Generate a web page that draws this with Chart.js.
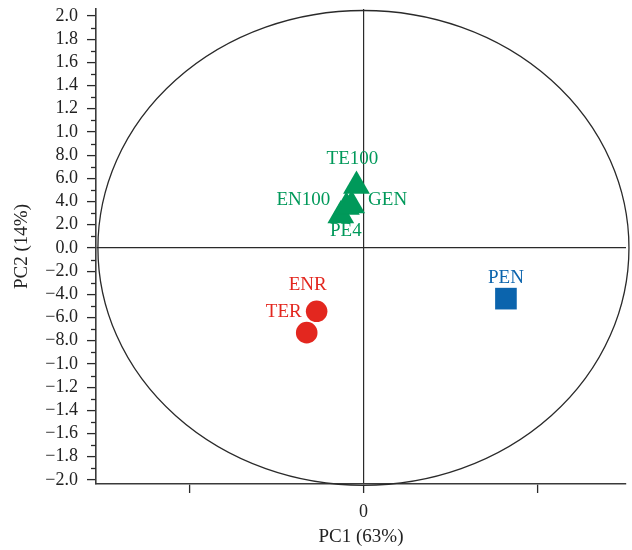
<!DOCTYPE html>
<html>
<head>
<meta charset="utf-8">
<script src="https://cdn.jsdelivr.net/npm/chart.js@4"></script>
<style>
  html, body { margin: 0; padding: 0; background: #ffffff; }
  canvas { display: block; }
</style>
</head>
<body>
<canvas id="c" width="632" height="550"></canvas>
<script>
// ---- data ----
const sampleNames = ['PE4', 'EN100', 'GEN', 'TE100', 'ENR', 'TER', 'PEN'];
const pc1Scores   = [-0.130, -0.098, -0.068, -0.040, -0.269, -0.326, 0.819];
const pc2Scores   = [ 0.280,  0.353,  0.366,  0.534, -0.546, -0.730, -0.437];
const sampleGroups = ['tri', 'tri', 'tri', 'tri', 'circ', 'circ', 'sq'];

const yTickValues = [2.0, 1.8, 1.6, 1.4, 1.2, 1.0, 0.8, 0.6, 0.4, 0.2, 0.0,
                     -0.2, -0.4, -0.6, -0.8, -1.0, -1.2, -1.4, -1.6, -1.8, -2.0];
const yTickLabels = ['2.0', '1.8', '1.6', '1.4', '1.2', '1.0', '8.0', '6.0', '4.0', '2.0', '0.0',
                     '\u22122.0', '\u22124.0', '\u22126.0', '\u22128.0', '\u22121.0', '\u22121.2',
                     '\u22121.4', '\u22121.6', '\u22121.8', '\u22122.0'];
const xTickValues = [-1, 0, 1];
const xTickLabels = ['', '0', ''];
const xTitle = 'PC1 (63%)';
const yTitle = 'PC2 (14%)';
const ellipseRadiusX = 1.526;
const ellipseRadiusY = 2.047;

// ---- styles ----
const FONT = "'Liberation Serif', 'DejaVu Serif', serif";
const groupStyles = {
  tri:  { color: '#00995a', pointStyle: 'triangle', radius: 15.5, borderWidth: 0 },
  circ: { color: '#e3271f', pointStyle: 'circle',   radius: 10.8, borderWidth: 0 },
  sq:   { color: '#0b64ad', pointStyle: 'rect',     radius: 15.3, borderWidth: 0 }
};
const labelOffsets = {
  TE100: [-4, -27], GEN: [36, -5], EN100: [-43, -7], PE4: [5, 16],
  ENR: [-9, -26], TER: [-23, -21], PEN: [0, -21]
};
const LINE = '#2a2a2a';

// ---- build datasets ----
const groupsOrder = ['tri', 'circ', 'sq'];
const datasets = groupsOrder.map(g => {
  const st = groupStyles[g];
  const pts = [];
  sampleNames.forEach((n, i) => {
    if (sampleGroups[i] === g) pts.push({ x: pc1Scores[i], y: pc2Scores[i], name: n });
  });
  return {
    label: g,
    data: pts,
    pointStyle: st.pointStyle,
    pointRadius: st.radius,
    pointHoverRadius: st.radius,
    backgroundColor: st.color,
    borderColor: st.color,
    pointBorderWidth: st.borderWidth,
    labelColor: st.color,
    clip: false
  };
});

const isMajorY = v => yTickValues.some(t => Math.abs(t - v) < 1e-6);

const ellipsePlugin = {
  id: 'ellipse',
  beforeDatasetsDraw(chart) {
    const xs = chart.scales.x, ys = chart.scales.y, ctx = chart.ctx;
    const cx = xs.getPixelForValue(0), cy = ys.getPixelForValue(0);
    const rx = Math.abs(xs.getPixelForValue(ellipseRadiusX) - cx);
    const ry = Math.abs(ys.getPixelForValue(ellipseRadiusY) - cy);
    ctx.save();
    ctx.beginPath();
    ctx.ellipse(cx, cy, rx, ry, 0, 0, Math.PI * 2);
    ctx.strokeStyle = LINE;
    ctx.lineWidth = 1.3;
    ctx.stroke();
    ctx.restore();
  }
};

const minorTickPlugin = {
  id: 'minorTicks',
  afterDraw(chart) {
    const ys = chart.scales.y, ctx = chart.ctx, left = chart.chartArea.left;
    ctx.save();
    ctx.strokeStyle = LINE;
    ctx.lineWidth = 1.3;
    ys.ticks.forEach(t => {
      if (isMajorY(t.value)) return;
      const y = Math.round(ys.getPixelForValue(t.value)) + 0.5;
      ctx.beginPath();
      ctx.moveTo(left - 5, y);
      ctx.lineTo(left, y);
      ctx.stroke();
    });
    ctx.restore();
  }
};

const labelPlugin = {
  id: 'pointLabels',
  afterDatasetsDraw(chart) {
    const ctx = chart.ctx;
    ctx.save();
    ctx.font = "19px " + FONT;
    ctx.textAlign = 'center';
    ctx.textBaseline = 'middle';
    chart.data.datasets.forEach((ds, di) => {
      const meta = chart.getDatasetMeta(di);
      meta.data.forEach((el, i) => {
        const name = ds.data[i].name;
        const off = labelOffsets[name] || [0, -20];
        ctx.fillStyle = ds.labelColor;
        ctx.fillText(name, el.x + off[0], el.y + off[1]);
      });
    });
    ctx.restore();
  }
};

new Chart(document.getElementById('c'), {
  type: 'scatter',
  data: { datasets },
  options: {
    responsive: false,
    animation: false,
    events: [],
    layout: { autoPadding: false, padding: { left: 0, right: 6, top: 9, bottom: 0 } },
    plugins: { legend: { display: false }, tooltip: { enabled: false } },
    scales: {
      x: {
        type: 'linear',
        min: -1.537,
        max: 1.509,
        afterBuildTicks: s => { s.ticks = xTickValues.map(v => ({ value: v })); },
        afterFit: s => { s.height = 66; s.paddingLeft = 0; s.paddingRight = 0; },
        ticks: {
          autoSkip: false,
          maxRotation: 0,
          padding: 8,
          color: '#222',
          font: { family: FONT, size: 18 },
          callback: (v) => { const i = xTickValues.indexOf(v); return i >= 0 ? xTickLabels[i] : ''; }
        },
        grid: {
          drawOnChartArea: true,
          drawTicks: true,
          tickLength: 9,
          tickWidth: 1.3,
          tickColor: LINE,
          lineWidth: 1.2,
          color: ctx => (ctx.tick && ctx.tick.value === 0) ? LINE : 'rgba(0,0,0,0)'
        },
        border: { display: true, color: '#3a3a3a', width: 1.6 },
        title: {
          display: true,
          text: xTitle,
          color: '#222',
          font: { family: FONT, size: 19 },
          padding: { top: 0, bottom: 2 }
        }
      },
      y: {
        type: 'linear',
        min: -2.035,
        max: 2.06,
        afterBuildTicks: s => {
          const vals = [];
          for (let k = -20; k <= 20; k++) vals.push(k / 10);
          s.ticks = vals.map(v => ({ value: v }));
        },
        afterFit: s => { s.width = 96; s.paddingTop = 0; s.paddingBottom = 0; },
        ticks: {
          autoSkip: false,
          padding: 9,
          color: '#222',
          font: { family: FONT, size: 18 },
          callback: (v) => {
            const i = yTickValues.findIndex(t => Math.abs(t - v) < 1e-6);
            return i >= 0 ? yTickLabels[i] : '';
          }
        },
        grid: {
          drawOnChartArea: true,
          drawTicks: true,
          tickLength: 9,
          tickWidth: 1.3,
          tickColor: ctx => (ctx.tick && isMajorY(ctx.tick.value)) ? LINE : 'rgba(0,0,0,0)',
          lineWidth: 1.2,
          color: ctx => (ctx.tick && Math.abs(ctx.tick.value) < 1e-6) ? LINE : 'rgba(0,0,0,0)'
        },
        border: { display: true, color: '#3a3a3a', width: 1.6 },
        title: {
          display: true,
          text: yTitle,
          color: '#222',
          font: { family: FONT, size: 19 },
          padding: { top: 11, bottom: 0 }
        }
      }
    }
  },
  plugins: [ellipsePlugin, minorTickPlugin, labelPlugin]
});
</script>
</body>
</html>
